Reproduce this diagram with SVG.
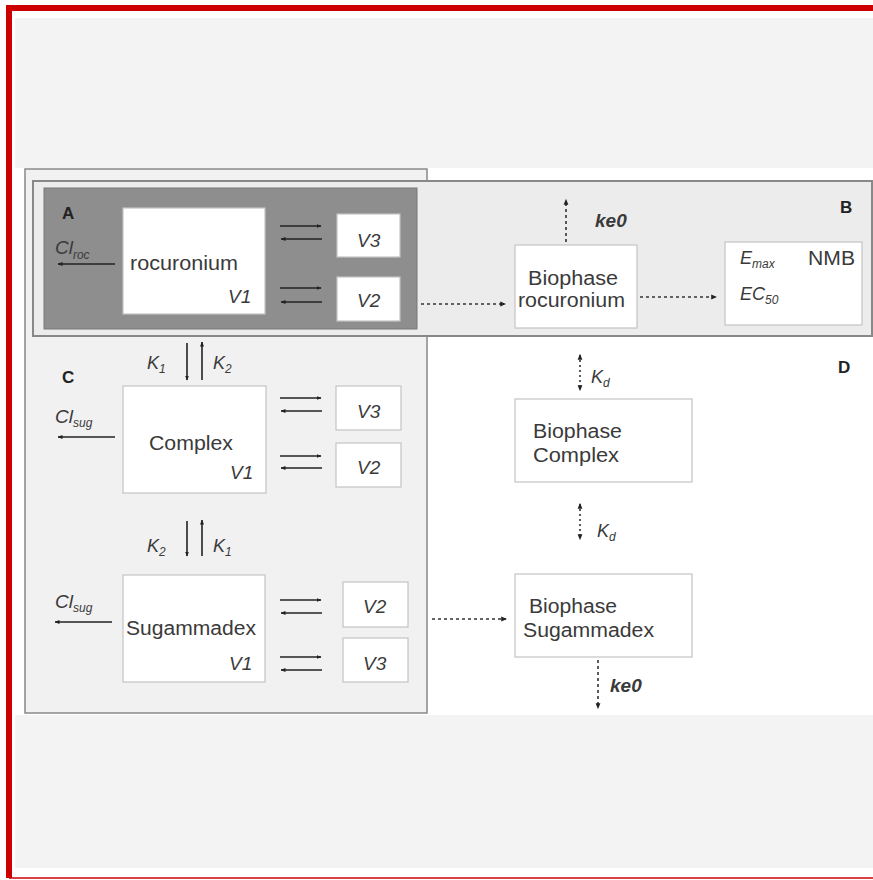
<svg xmlns="http://www.w3.org/2000/svg" width="873" height="880" viewBox="0 0 873 880">
<defs>
<marker id="ah" viewBox="0 0 10 10" refX="9" refY="5" markerWidth="5" markerHeight="5" orient="auto-start-reverse" markerUnits="userSpaceOnUse">
<path d="M0,1 L10,5 L0,9 z" fill="#222"/>
</marker>
<marker id="ad" viewBox="0 0 10 10" refX="8" refY="5" markerWidth="6" markerHeight="6" orient="auto-start-reverse" markerUnits="userSpaceOnUse">
<path d="M0,1 L10,5 L0,9 z" fill="#222"/>
</marker>
</defs>
<style>
text{font-family:"Liberation Sans",Arial,sans-serif;fill:#3a3a3a}
.t{font-size:20px}
.it{font-size:19px;font-style:italic}
.k{font-size:18px;font-style:italic}
.b{font-size:17px;font-weight:bold;fill:#222}
.sub{font-size:12px;font-style:italic}
.box{fill:#fff;stroke:#c4c4c4;stroke-width:1.2}
.sol{stroke:#222;stroke-width:1.6;fill:none;marker-end:url(#ah)}
.dot{stroke:#333;stroke-width:1.6;stroke-dasharray:3,3;fill:none;marker-end:url(#ad)}
.dd{stroke:#333;stroke-width:1.6;stroke-dasharray:2,3;fill:none;marker-end:url(#ad);marker-start:url(#ad)}
</style>
<rect x="0" y="0" width="873" height="880" fill="#fff"/>
<rect x="15" y="18" width="858" height="150" fill="#f3f3f3"/>
<rect x="15" y="715" width="858" height="153" fill="#f3f3f3"/>
<path d="M9,878 V8 H873" fill="none" stroke="#cc0000" stroke-width="6"/>
<line x1="9" y1="878" x2="873" y2="878" stroke="#cc0000" stroke-width="1.5"/>

<g id="panelC">
<rect x="25" y="169" width="402" height="544" fill="#f1f1f1" stroke="#888" stroke-width="1.5"/>
<text x="62" y="383" class="b">C</text>
</g>
<g id="panelB">
<rect x="33" y="181" width="839" height="155" fill="#ececec" stroke="#888" stroke-width="2"/>
<text x="840" y="213" class="b">B</text>
</g>
<g id="panelA">
<rect x="44" y="188" width="373" height="141" fill="#8e8e8e" stroke="#777" stroke-width="1"/>
<text x="62" y="219" class="b">A</text>
</g>
<g id="panelD">
<text x="838" y="373" class="b">D</text>
</g>

<g id="rocuronium">
<rect x="123" y="208" width="142" height="106" class="box"/>
<text x="130" y="270" class="t" textLength="108" lengthAdjust="spacingAndGlyphs">rocuronium</text>
<text x="228" y="303" class="it">V1</text>
</g>
<g id="roc-V3"><rect x="337" y="214" width="63" height="43" class="box"/><text x="357" y="247" class="it">V3</text></g>
<g id="roc-V2"><rect x="337" y="277" width="63" height="44" class="box"/><text x="357" y="307" class="it">V2</text></g>

<g id="complex">
<rect x="123" y="386" width="143" height="107" class="box"/>
<text x="149" y="450" class="t" textLength="84" lengthAdjust="spacingAndGlyphs">Complex</text>
<text x="230" y="479" class="it">V1</text>
</g>
<g id="cx-V3"><rect x="336" y="386" width="65" height="44" class="box"/><text x="357" y="418" class="it">V3</text></g>
<g id="cx-V2"><rect x="336" y="443" width="65" height="44" class="box"/><text x="357" y="474" class="it">V2</text></g>

<g id="sugammadex">
<rect x="123" y="575" width="142" height="107" class="box"/>
<text x="126" y="635" class="t" textLength="130" lengthAdjust="spacingAndGlyphs">Sugammadex</text>
<text x="229" y="670" class="it">V1</text>
</g>
<g id="sg-V2"><rect x="343" y="582" width="65" height="45" class="box"/><text x="363" y="613" class="it">V2</text></g>
<g id="sg-V3"><rect x="343" y="638" width="65" height="44" class="box"/><text x="363" y="670" class="it">V3</text></g>

<g id="bio-roc">
<rect x="515" y="245" width="122" height="83" class="box"/>
<text x="528" y="285" class="t" textLength="90" lengthAdjust="spacingAndGlyphs">Biophase</text>
<text x="518" y="307" class="t" textLength="107" lengthAdjust="spacingAndGlyphs">rocuronium</text>
</g>
<g id="nmb">
<rect x="725" y="242" width="137" height="83" class="box"/>
<text x="740" y="264" class="k">E<tspan class="sub" dy="4">max</tspan></text>
<text x="808" y="265" class="t" textLength="47" lengthAdjust="spacingAndGlyphs">NMB</text>
<text x="740" y="300" class="k">EC<tspan class="sub" dy="4">50</tspan></text>
</g>
<g id="bio-complex">
<rect x="515" y="399" width="177" height="83" class="box"/>
<text x="533" y="438" class="t" textLength="89" lengthAdjust="spacingAndGlyphs">Biophase</text>
<text x="533" y="462" class="t" textLength="86" lengthAdjust="spacingAndGlyphs">Complex</text>
</g>
<g id="bio-sug">
<rect x="515" y="574" width="177" height="83" class="box"/>
<text x="529" y="613" class="t" textLength="88" lengthAdjust="spacingAndGlyphs">Biophase</text>
<text x="523" y="637" class="t" textLength="131" lengthAdjust="spacingAndGlyphs">Sugammadex</text>
</g>

<g id="connectors">
<line x1="280" y1="226" x2="321" y2="226" class="sol"/>
<line x1="322" y1="239" x2="281" y2="239" class="sol"/>
<line x1="280" y1="288" x2="321" y2="288" class="sol"/>
<line x1="322" y1="302" x2="281" y2="302" class="sol"/>
<line x1="115" y1="264" x2="58" y2="264" class="sol"/>
<line x1="280" y1="398" x2="321" y2="398" class="sol"/>
<line x1="322" y1="411" x2="281" y2="411" class="sol"/>
<line x1="280" y1="456" x2="321" y2="456" class="sol"/>
<line x1="322" y1="468" x2="281" y2="468" class="sol"/>
<line x1="115" y1="437" x2="58" y2="437" class="sol"/>
<line x1="280" y1="600" x2="321" y2="600" class="sol"/>
<line x1="322" y1="613" x2="281" y2="613" class="sol"/>
<line x1="280" y1="657" x2="321" y2="657" class="sol"/>
<line x1="322" y1="670" x2="281" y2="670" class="sol"/>
<line x1="112" y1="622" x2="55" y2="622" class="sol"/>
<line x1="187" y1="343" x2="187" y2="380" class="sol"/>
<line x1="202" y1="380" x2="202" y2="342" class="sol"/>
<line x1="187" y1="521" x2="187" y2="556" class="sol"/>
<line x1="202" y1="556" x2="202" y2="520" class="sol"/>
<line x1="421" y1="304" x2="505" y2="304" class="dot"/>
<line x1="566" y1="242" x2="566" y2="200" class="dot"/>
<line x1="640" y1="297" x2="716" y2="297" class="dot"/>
<line x1="432" y1="619" x2="506" y2="619" class="dot"/>
<line x1="598" y1="660" x2="598" y2="708" class="dot"/>
<line x1="580" y1="355" x2="580" y2="390" class="dd"/>
<line x1="580" y1="504" x2="580" y2="539" class="dd"/>
</g>

<g id="labels">
<text x="55" y="254" class="it">Cl<tspan class="sub" dy="5">roc</tspan></text>
<text x="55" y="423" class="it">Cl<tspan class="sub" dy="4">sug</tspan></text>
<text x="55" y="608" class="it">Cl<tspan class="sub" dy="4">sug</tspan></text>
<text x="147" y="369" class="k">K<tspan class="sub" dy="4">1</tspan></text>
<text x="213" y="369" class="k">K<tspan class="sub" dy="4">2</tspan></text>
<text x="147" y="552" class="k">K<tspan class="sub" dy="4">2</tspan></text>
<text x="213" y="552" class="k">K<tspan class="sub" dy="4">1</tspan></text>
<text x="595" y="227" class="it" font-weight="bold">ke0</text>
<text x="610" y="692" class="it" font-weight="bold">ke0</text>
<text x="591" y="383" class="k">K<tspan class="sub" dy="4">d</tspan></text>
<text x="597" y="537" class="k">K<tspan class="sub" dy="4">d</tspan></text>
</g>
</svg>
